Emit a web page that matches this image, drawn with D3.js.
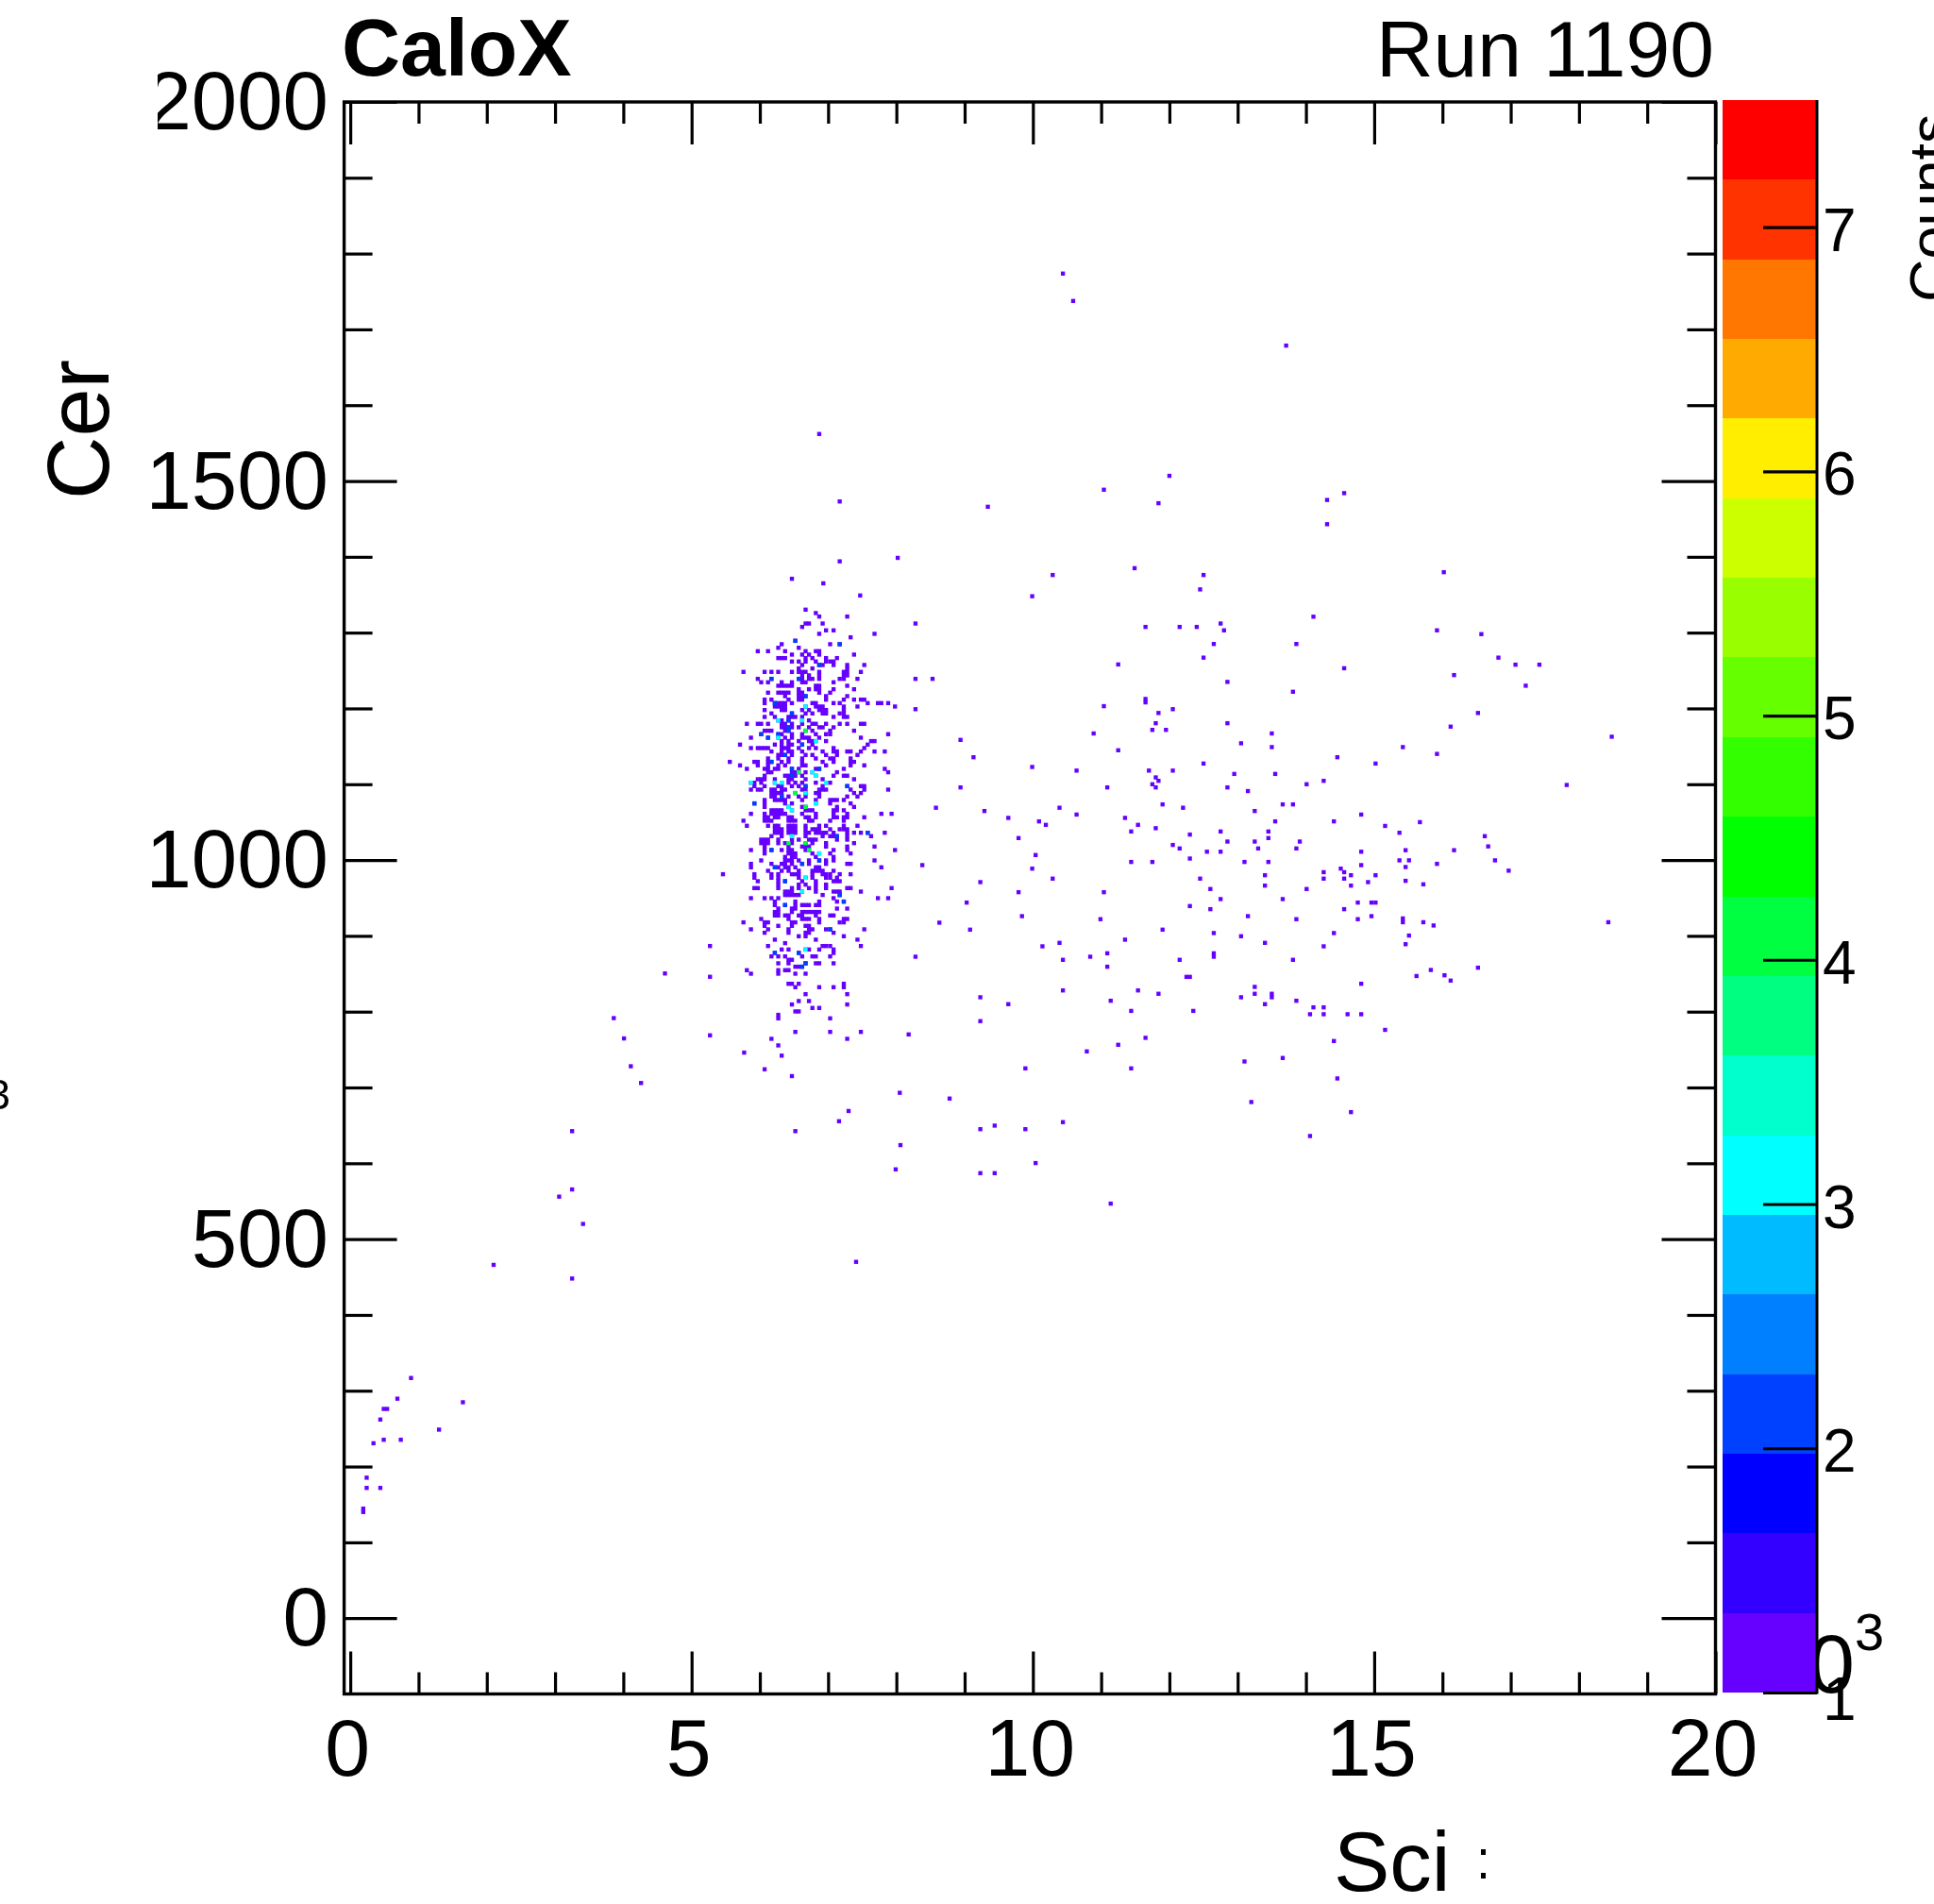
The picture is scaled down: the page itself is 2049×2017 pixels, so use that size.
<!DOCTYPE html>
<html><head><meta charset="utf-8">
<script src="https://cdn.jsdelivr.net/npm/d3@7"></script>
<style>html,body{margin:0;padding:0;background:#fff;overflow:hidden}svg{display:block}text{font-family:"Liberation Sans",Arial,sans-serif;fill:#000}</style>
</head><body><svg id="c" width="2049" height="2017"></svg>
<script>
// ---- data ----
const xMajor=[0,5,10,15,20];
const yMajor=[0,500,1000,1500,2000];
const zTicks=[1,2,3,4,5,6,7];
const palette=["#6600ff","#3300ff","#0000ff","#0040ff","#0080ff","#00bbff","#00ffff","#00ffcc","#00ff80","#00ff40",
"#00ff00","#33ff00","#66ff00","#99ff00","#ccff00","#ffee00","#ffaa00","#ff7700","#ff3300","#ff0000"];
// far field single-count bins [Sci, Cer]
const sparsePoints=[[10.44,1773.6],[10.59,1737.5],[13.71,1678.6],[12,1506.8],[11.04,1488.5],[9.34,1466],[11.84,1470.7],[14.56,1484],[14.31,1475],[14.31,1443],[11.49,1385],[10.29,1376],[12.5,1376],[12.45,1357],[9.99,1348],[14.11,1321],[8.28,1312],[11.65,1307.5],[12.15,1307.5],[12.4,1307.5],[12.75,1312],[12.8,1303],[12.65,1285],[13.86,1285],[12.5,1267],[11.25,1258],[14.56,1253],[8.28,1239],[8.53,1239],[12.85,1235],[13.81,1222],[11.65,1212.5],[11.65,1208],[11.04,1203],[8.28,1199],[12.05,1199],[11.84,1194],[11.8,1180.5],[12.85,1180.5],
[16.02,1379.7],[15.92,1303],[16.57,1298],[16.82,1267],[17.07,1257.7],[17.42,1257.7],[16.17,1244],[17.22,1230],[16.52,1194],[16.12,1176],[18.48,1162.7],[15.42,1149],[15.92,1140],[17.82,1099],[15.67,1050],[15.16,1045],[15.37,1036],[16.62,1031.5],[16.67,1018],[15.46,1013],[16.17,1013],[16.77,999.6],[15.37,999.6],[15.51,999.6],[15.92,995],[15.46,990.8],[16.97,986],[15.46,972.6],[15.72,968],[15.42,923],[15.42,918],[15.72,918],[15.87,913.7],[18.43,918],[15.51,900.4],[15.46,889],[15.62,847],[15.83,855],[16.03,848],[16.12,841],[16.52,858],[15.16,776],
[10.89,1167],[11.75,1171.7],[11.95,1171.7],[13.5,1167],[8.94,1158.5],[13.05,1154],[11.25,1144.8],[13.5,1149],[9.13,1135.6],[14.46,1135.6],[12.5,1127.3],[15.02,1127.3],[9.99,1122.8],[10.64,1118],[11.7,1118],[12.05,1118],[12.95,1113.6],[13.55,1113.6],[11.8,1109],[11.84,1104.5],[14.26,1104.5],[11.75,1100],[14.01,1100],[8.94,1095.8],[11.09,1095.8],[11.8,1095.8],[12.85,1095.8],[13.15,1091],[11.9,1073.4],[13.66,1073.4],[13.81,1073.4],[8.58,1069],[10.39,1069],[12.2,1069],[9.29,1064.7],[13.25,1064.7],[10.64,1060],[14.81,1060],[9.64,1055.6],[11.35,1055.6],[10.09,1051],[13.55,1051],[14.41,1051],[10.19,1046.4],[11.54,1046.4],[11.8,1042],[11.44,1037.7],[12.75,1037.7],[13.45,1037.7],[12.3,1033.6],[9.79,1029],[13.45,1029],[12.85,1024.4],[13.25,1024.4],[13.91,1024.4],[12.05,1019.9],[12.15,1015.3],[13.3,1015.3],[13.86,1015.3],[12.55,1011],[12.75,1011],[14.81,1011],[10.04,1006.6],[12.3,1002],[11.44,997.5],[11.75,997.5],[13.1,997.5],[13.45,997.5],[8.38,993.3],[14.81,993.3],[9.99,988.7],[14.51,988.7],[14.26,984],[14.56,984],[13.4,980],[14.66,980],[15.02,980],[10.29,975.5],[12.45,975.5],[14.26,975.5],[14.56,975.5],[9.23,970.9],[14.91,970.9],[13.4,966.3],[14.66,966.3],[12.6,961.8],[14.01,961.8],[9.79,957.6],[11.04,957.6],[12.75,948.5],[13.66,948.5],[9.03,943.9],[14.76,943.9],[14.96,943.9],[15.02,943.9],[12.3,939.3],[12.6,935.2],[14.56,935.2],[9.84,926],[13.15,926],[14.96,926],[10.99,922],[13.86,922],[14.76,922],[8.63,917.4],[9.08,908.2],[11.9,908.2],[12.65,903.7],[14.41,903.7],[13.05,899.5],[11.35,895],[10.39,890.8],[13.4,890.8],[10.14,886.2],[14.26,886.2],[11.09,877],[12.65,877],[12.65,872.5],[8.28,872.5],[10.84,872.5],[10.44,868.4],[12.15,868.4],[13.81,868.4],[11.09,859.3],[12.25,845.9],[12.3,845.9],[14.81,836.8],[13.25,832.7],[10.44,828],[11.54,828],[11.84,823.6],[13.25,823.6],[13.5,823.6],[13.5,819],[9.23,819],[13.05,819],[11.14,814.4],[13.86,814.4],[9.64,809.9],[13.4,809.9],[14.11,805.7],[14.26,805.7],[11.44,801],[12.35,801],[14.06,796.6],[14.26,796.6],[14.61,796.6],[14.81,796.6],[9.23,787.5],[8.18,770],[11.65,765.5],[14.41,761.3],[11.25,756.3],[10.79,747.6],[13.66,738.9],[13.1,734.3],[9.89,725.2],[11.44,725.2],[14.46,711.9],[8.78,685.4],[13.2,680.8],[14.66,667.5],[10.44,654.3],[9.44,649.7],[9.23,645],[9.89,645],[14.06,636],[10.04,600.3],[9.23,587],[9.44,587],[11.14,546.8],
[3.86,791.5],[4.01,764.7],[4.11,728],[4.26,705.9],[4.61,850.4],[3.25,642.4],[6.52,642.4],[3.25,565.5],[3.06,556],[3.41,520],[2.1,466],[3.25,448],[0.89,316.8],[0.69,289.5],[1.65,284.8],[0.49,276],[0.54,276],[0.44,262],[1.3,248.7],[0.34,230.7],[0.49,235.3],[0.74,235.3],[0.24,185.3],[0.24,171.8],[0.44,171.8],[0.19,144.5],[0.19,140],[5.77,746],[6.32,742],[6.07,724],[6.47,715],
[6.87,1562],[7.17,1473],[7.17,1394],[8.02,1398.6],[6.47,1371],[7.47,1349],[6.93,1365],[7.41,470],[7.16,655.5],[7.3,669],[7.99,592],[8.06,624],[8.05,693]];
// central cluster, row by row: [Cer, [Sci...]]
const clusterRows=[
[1330.3,[6.67]],[1325.8,[6.82]],[1321.2,[6.87,7.28]],[1312,[6.67,6.72,6.92]],[1307.5,[6.62]],[1303,[6.97,7.08]],[1298.4,[6.87,7.68]],[1293.8,[7.33]],[1289.2,[6.52]],[1284.7,[6.32,7.03,7.17]],[1280,[6.27,6.57]],[1275.5,[5.97,6.12,6.37,6.67,6.82,6.87]],[1271,[6.47,6.62,6.72,6.87,7.38]],[1266.4,[6.27,6.32,6.37,6.67,6.77,6.97,7.13]],[1261.9,[6.47,6.57,6.67,6.82,6.97,7.03,7.08]],[1257.3,[6.62,6.87,6.92,7.08,7.28,7.53]],[1252.7,[6.57,6.77,7.28]],
[1248.2,[5.76,6.07,6.17,6.27,6.47,6.57,6.62,6.67,6.87,7.23,7.28,7.48]],[1243.6,[6.62,6.72,6.87,7.23,7.28]],[1239,[5.97,6.17,6.57,6.62,6.72,6.77,6.87,7.17,7.23,7.43]],[1234.5,[6.02,6.12,6.32,6.47,6.62,6.67,7.08]],[1229.9,[6.27,6.32,6.37,6.42,6.47,6.82,6.87,7.28]],[1225.3,[6.57,6.72,6.82,6.87,7.08,7.38]],[1220.8,[6.12,6.27,6.32,6.37,6.42,6.57,6.62,6.87,7.03]],[1216.2,[6.37,6.57,6.62,6.67,6.97,7.28]],[1211.6,[6.07,6.17,6.42,6.57,6.62,6.97,7.23,7.38,7.48,7.53]],[1207,[6.07,6.22,6.27,6.32,6.37,6.47,6.77,6.82,7.08,7.17,7.58,7.73,7.78,7.88]],[1202.5,[6.22,6.27,6.32,6.37,6.67,6.82,6.87,6.92,7.23,7.43,7.98]],[1197.9,[6.07,6.32,6.37,6.62,6.72,6.87,6.92,6.97,7.23]],[1193.4,[6.17,6.47,6.67,6.77,6.92,6.97,7.17,7.23]],[1188.8,[6.07,6.22,6.42,6.47,6.52,6.62,7.08,7.23,7.28]],[1184.2,[6.27,6.32,6.42,6.62,6.72]],
[1179.7,[5.81,5.97,6.02,6.12,6.32,6.37,6.47,6.62,6.77,6.82,6.97,7.17,7.28,7.48,7.53]],[1175.1,[6.32,6.37,6.42,6.47,6.57,6.72,6.87,6.92,7.08]],[1170.6,[6.07,6.12,6.17,6.37,6.42,6.67,6.77,7.03,7.38]],[1166,[6.02,6.27,6.32,6.47,6.62,6.82,6.97,7.03,7.88]],[1161.4,[5.87,6.12,6.27,6.37,6.47,6.62,6.67,6.72,6.87,7.48]],[1156.9,[6.32,6.42,6.57,6.72,6.77,6.82,6.97,7.63,7.68]],[1152.3,[5.71,6.22,6.32,6.42,6.47,6.62,6.77,7.58]],[1147.7,[5.87,5.97,6.02,6.07,6.12,6.32,6.37,6.42,6.57,6.72,6.82,7.08,7.53]],[1143.2,[6.17,6.32,6.42,6.47,6.62,6.92,7.08,7.13,7.28,7.33,7.48,7.68,7.83]],[1138.6,[6.27,6.32,6.37,6.47,6.67,6.77,6.97,7.13,7.43]],[1134,[6.12,6.27,6.42,6.62,6.82,7.03,7.08,7.33]],[1129.5,[5.56,5.92,5.97,6.12,6.17,6.32,6.42,6.62,6.92,7.08,7.33,7.38]],[1124.9,[5.71,5.97,6.12,6.27,6.37,6.62,6.67,6.97,7.33,7.53]],[1120.3,[5.81,6.07,6.12,6.22,6.27,6.47,6.57,6.82,6.87,7.23,7.83]],[1115.8,[6.12,6.17,6.47,6.52,6.57,6.67,6.77,7.13,7.88]],[1111.2,[6.07,6.37,6.42,6.47,6.52,6.62,6.82,7.08,7.23,7.28]],[1106.6,[5.97,6.02,6.07,6.22,6.42,6.47,6.67,6.92,7.38]],[1102,[5.87,5.92,6.02,6.22,6.32,6.42,6.52,6.62,6.82,6.97,7.03]],[1097.5,[5.92,6.07,6.27,6.32,6.47,6.57,6.67,6.92,7.28,7.48,7.53]],[1092.9,[5.87,5.97,6.02,6.17,6.22,6.32,6.37,6.62,6.67,6.87,6.92,6.97,7.33,7.53,7.88]],[1088.4,[6.17,6.22,6.27,6.32,6.52,6.67,6.82,6.87,7.38,7.48]],[1083.8,[6.17,6.22,6.32,6.42,6.57,6.67,6.87,7.28,7.43]],[1079.2,[6.07,6.22,6.27,6.32,6.37,6.62,6.82,7.03,7.08,7.13,7.23]],[1074.7,[5.92,6.07,6.37,6.47,6.82,7.03,7.33]],[1070.1,[6.07,6.42,6.62,6.67,7.13,7.38]],[1065.6,[6.17,6.22,6.27,6.32,6.47,6.67,6.72,6.77,7.08,7.13,7.23]],[1061,[5.87,6.07,6.17,6.22,6.27,6.32,6.37,6.62,6.82,7.08,7.28,7.78,7.93]],[1056.4,[6.07,6.12,6.22,6.27,6.42,6.47,6.67,6.72,6.82,7.08,7.13,7.23,7.28,7.53]],[1051.9,[5.76,6.07,6.12,6.17,6.42,6.47,6.52,6.72,6.77,7.03,7.23]],
[1045.2,[5.81,6.12,6.22,6.27,6.42,6.47,6.52,6.67,6.87,6.97,7.23,7.43]],[1040.6,[6.22,6.27,6.32,6.42,6.47,6.52,6.67,6.77,6.82,6.87,7.03,7.17,7.23,7.28]],[1036,[6.22,6.27,6.32,6.42,6.47,6.52,6.67,6.72,6.82,6.87,6.92,6.97,7.08,7.28,7.38,7.48,7.58,7.83]],[1031.5,[6.17,6.32,6.47,6.67,6.92,7.03,7.08,7.13,7.28,7.63]],[1026.9,[6.02,6.07,6.12,6.27,6.47,6.57,6.72,6.77,6.82,7.13,7.28]],[1022.3,[6.02,6.07,6.12,6.27,6.37,6.42,6.47,6.67,6.77,6.97,7.38]],[1017.8,[6.07,6.42,6.62,6.67,6.72,6.97,7.28,7.68]],[1013.2,[5.87,6.07,6.17,6.32,6.42,6.47,6.67,6.72,7.08,7.28,7.98]],[1008.7,[6.07,6.42,6.47,6.52,6.77,6.87,7.03,7.33]],[1004.1,[6.37,6.47,6.52,6.82,7.08]],[999.5,[6.02,6.37,6.42,6.47,6.57,6.72,6.87,6.97,7.08,7.68]],[995,[5.87,6.17,6.32,6.37,6.47,6.62,6.72,6.97,7.28,7.33]],[990.4,[5.87,6.22,6.27,6.37,6.42,6.52,6.82,6.87,7.78]],[985.8,[6.12,6.32,6.42,6.57,6.77,6.82,6.87,6.92,7.08]],[981.3,[5.46,5.92,6.17,6.27,6.47,6.52,6.57,6.77,6.92,6.97,7.03,7.17,7.33]],[976.7,[5.92,6.17,6.27,6.57,6.67,6.77,6.97,7.03,7.13]],[972.1,[5.97,6.27,6.37,6.62,6.82,7.08,7.13,7.17]],[967.6,[6.27,6.57,6.67,6.82,6.97]],[963,[5.92,5.97,6.27,6.47,6.57,6.72,6.82,6.97,7.28,7.33,7.93]],[958.4,[6.37,6.42,6.47,6.62,6.82,7.08,7.13,7.17,7.48]],[953.9,[6.37,6.42,6.47,6.52,6.57,6.92,7.17]],[949.7,[5.87,6.07,6.17,6.27,7.08,7.73,7.88]],[945.2,[6.22,6.52,6.87,7.13,7.23]],[940.6,[6.22,6.37,6.52,6.62,6.67,6.72,6.82,6.87]],[936,[6.27,6.47,6.52,7.13,7.28]],[931.5,[6.22,6.27,6.47,6.62,6.67,6.72,6.77,6.82,6.87]],[926.9,[6.22,6.27,6.37,6.42,6.57,6.62,6.82,7.03,7.08]],[922.3,[6.02,6.42,6.62,6.67,6.72,6.87,7.23,7.28]],[917.8,[5.76,6.07,6.12,6.47,6.52,6.87,7.17,7.23]],[913.2,[6.07,6.27,6.47,6.67,6.72]],[908.6,[5.87,6.12,6.42,6.72,6.77,6.97,7.03,7.53]],[904.1,[6.07,6.42,6.67,6.72,7.08]],[899.5,[6.57,6.67,7.23]],[895,[6.22,6.82,7.43]],[890.4,[6.37]],[886.6,[5.27,6.12,6.92,6.97,7.03,7.48]],[882,[6.32,6.42,6.67,6.72,6.87,7.08]],[877.5,[6.22,6.57,7.08]],[872.9,[6.17,6.27,6.37,6.62,6.77,6.82,7.03]],[868.4,[6.42,6.47]],[863.8,[6.27,6.42,6.67,6.82,6.87,7.08]],[859.3,[6.52,6.57,6.62]],[854.7,[5.81,6.27,6.37,6.42]],[850.1,[5.87,6.27,6.52,6.67]],[846,[5.27]],[836.8,[6.42,6.47,6.57,7.23]],[832.3,[6.52,6.87,7.08,7.23]],[823.1,[6.67,7.28]],[814,[6.57,6.72]],[809.5,[6.47,7.28]],[804.9,[6.77,6.87]],[800.3,[6.52,6.57]],[795.8,[6.27]],[791.2,[6.27,7.03]],[773.3,[6.52,7.03,7.48]],[768.8,[5.27]],[764.2,[6.17,7.28]],[755.5,[6.27]]];
// bins with more than one count [Sci, Cer, count]
const hotCells=[[6.52,1289.2,2],[7.17,1284.7,2],[6.87,1257.3,2],[6.17,1239,2],[6.57,1239,2],[6.67,1216.2,2],[6.22,1207,2],[6.67,1202.5,3],[6.47,1193.4,2],[6.27,1184.2,3],[6.42,1184.2,2],[6.62,1184.2,3],[6.42,1175.1,2],[6.42,1170.6,2],[6.67,1170.6,4],[6.02,1166,2],[6.27,1166,2],[6.12,1161.4,2],[6.27,1161.4,3],[6.82,1156.9,3],[6.62,1152.3,2],[6.37,1138.6,2],[6.17,1129.5,2],[6.47,1120.3,2],[6.87,1120.3,2],[6.57,1115.8,4],[6.77,1115.8,3],[6.47,1111.2,2],[6.82,1111.2,3],[5.87,1102,3],[6.22,1102,3],[6.32,1102,3],[6.97,1102,3],[6.67,1097.5,2],[7.28,1097.5,2],[6.52,1088.4,4],[6.67,1088.4,3],[6.32,1083.8,2],[5.92,1074.7,2],[6.82,1074.7,3],[6.42,1070.1,3],[6.67,1070.1,4],[6.47,1065.6,3],
[7.58,1036,2],[6.47,1031.5,3],[7.13,1031.5,2],[6.42,1022.3,4],[6.67,1022.3,4],[6.17,1013.2,2],[6.72,1013.2,4],[6.87,1008.7,3],[6.87,999.5,2],[6.62,995,2],[6.22,990.4,2],[6.67,976.7,3],[6.37,972.1,2],[6.62,958.4,3],[7.17,953.9,2],[7.23,945.2,2],[6.37,940.6,2],[7.03,908.6,2],[6.67,882,3],[6.22,877.5,2],[6.57,877.5,2],[6.67,863.8,2],[6.62,859.3,2]];
const xTitle="Sci", yTitle="Cer", zTitle="Counts", leftTitle="CaloX", rightTitle="Run 1190";

// ---- scales ----
const svg=d3.select("#c");
const x=d3.scaleLinear().domain([-0.09,20]).range([364.6,1817.5]);
const y=d3.scaleLinear().domain([-100,2000]).range([1794.5,108]);
const zDom=[1,7.52];
const zY=d3.scaleLinear().domain(zDom).range([1793,106]);
const zColor=d3.scaleQuantize().domain(zDom).range(palette);

const defs=svg.append("defs");
const soft=(id,s)=>defs.append("filter").attr("id",id).attr("filterUnits","userSpaceOnUse")
  .attr("x",0).attr("y",0).attr("width",2049).attr("height",2017)
  .append("feGaussianBlur").attr("stdDeviation",s);
soft("bin",0.75); soft("ink",0.6);
defs.append("clipPath").attr("id","sliver").append("rect").attr("x",1569).attr("y",1940).attr("width",5).attr("height",60);

// text hidden behind the palette goes first
svg.append("g").attr("filter","url(#ink)").append("text").attr("x",1916).attr("y",1793).attr("font-size",88).text("0");

// ---- bins ----
const cells=[];
sparsePoints.forEach(p=>cells.push({sci:p[0],cer:p[1],n:1}));
clusterRows.forEach(r=>r[1].forEach(s=>cells.push({sci:s,cer:r[0],n:1})));
hotCells.forEach(h=>cells.push({sci:h[0],cer:h[1],n:h[2]}));
const binW=(x(0.05)-x(0))*1.2, binH=(y(0)-y(4.56))*1.2;
svg.append("g").attr("filter","url(#bin)").selectAll("rect").data(cells).join("rect")
  .attr("x",d=>x(d.sci)-binW/2).attr("y",d=>y(d.cer)-binH/2)
  .attr("width",binW).attr("height",binH).attr("fill",d=>zColor(d.n));

// ---- palette ----
const step=(zDom[1]-zDom[0])/palette.length;
svg.append("g").attr("shape-rendering","crispEdges").selectAll("rect").data(palette).join("rect")
  .attr("x",1825).attr("width",100)
  .attr("y",(c,i)=>zY(zDom[0]+step*(i+1))).attr("height",(c,i)=>zY(zDom[0]+step*i)-zY(zDom[0]+step*(i+1)))
  .attr("fill",c=>c);

// ---- axes ----
const axG=svg.append("g").attr("filter","url(#ink)");
function ax(gen,tx,ty){
  const g=axG.append("g").attr("transform",`translate(${tx},${ty})`).call(gen);
  g.selectAll("text").remove();g.select(".domain").remove();
  g.selectAll("line").attr("stroke","#000").attr("stroke-width",3.2);
}
const xMinor=d3.range(0,21).filter(v=>v%5);
const yMinor=d3.range(-100,2000,100).filter(v=>v%500&&v>-100);
ax(d3.axisBottom(x).tickValues(xMajor).tickSize(-45),0,1794.5);
ax(d3.axisBottom(x).tickValues(xMinor).tickSize(-23),0,1794.5);
ax(d3.axisTop(x).tickValues(xMajor).tickSize(-45),0,108);
ax(d3.axisTop(x).tickValues(xMinor).tickSize(-23),0,108);
ax(d3.axisLeft(y).tickValues(yMajor).tickSize(-56),364.6,0);
ax(d3.axisLeft(y).tickValues(yMinor).tickSize(-30),364.6,0);
ax(d3.axisRight(y).tickValues(yMajor).tickSize(-57),1817.5,0);
ax(d3.axisRight(y).tickValues(yMinor).tickSize(-30),1817.5,0);
ax(d3.axisLeft(zY).tickValues(zTicks).tickSize(57),1925,0);
axG.append("rect").attr("x",x.range()[0]).attr("y",y.range()[1]).attr("width",x.range()[1]-x.range()[0]).attr("height",y.range()[0]-y.range()[1])
  .attr("fill","none").attr("stroke","#000").attr("stroke-width",3.4);
axG.append("line").attr("x1",1925).attr("x2",1925).attr("y1",zY.range()[1]).attr("y2",zY.range()[0]+1.5).attr("stroke","#000").attr("stroke-width",3);

// ---- text ----
const ink=svg.append("g").attr("filter","url(#ink)");
ink.append("text").attr("x",362).attr("y",80).attr("font-size",86).attr("font-weight","bold").text(leftTitle);
ink.append("text").attr("x",1816).attr("y",81).attr("font-size",84).attr("text-anchor","end").text(rightTitle);
ink.selectAll(".xl").data(xMajor).join("text").attr("class","xl").attr("x",d=>x(d)-3).attr("y",1881)
  .attr("font-size",86).attr("text-anchor","middle").text(d=>d);
ink.selectAll(".yl").data(yMajor).join("text").attr("class","yl").attr("x",348).attr("y",d=>y(d)+29)
  .attr("font-size",87).attr("text-anchor","end").text(d=>d);
ink.selectAll(".zl").data(zTicks).join("text").attr("class","zl").attr("x",1931).attr("y",d=>zY(d)+(d===1?29:25))
  .attr("font-size",64).text(d=>d);
ink.append("text").attr("x",1965).attr("y",1748).attr("font-size",56).text("3");
ink.append("text").attr("x",11).attr("y",1175).attr("font-size",45).attr("text-anchor","end").text("3");
ink.append("text").attr("x",1413).attr("y",2003).attr("font-size",89).text(xTitle);
ink.append("text").attr("x",1563).attr("y",1990).attr("font-size",60).attr("clip-path","url(#sliver)").text(":");
ink.append("text").attr("transform","translate(115,529) rotate(-90)").attr("font-size",92).text(yTitle);
ink.append("text").attr("transform","translate(2067,320) rotate(-90)").attr("font-size",63).text(zTitle);
ink.append("rect").attr("x",150).attr("y",70).attr("width",17).attr("height",78).attr("fill","#fff");
</script></body></html>
